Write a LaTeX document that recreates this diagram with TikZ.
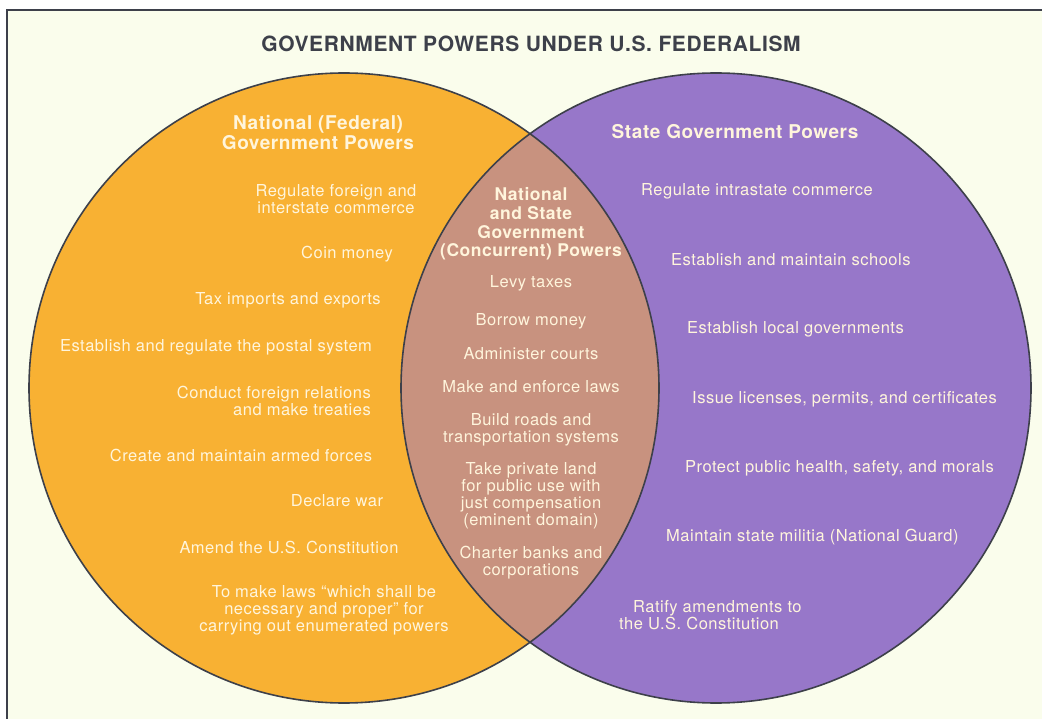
\documentclass[tikz,border=0pt]{standalone}
\usepackage{fontspec}
\setmainfont{TeX Gyre Heros}[LetterSpace=3]
\definecolor{fedorange}{HTML}{F8B133}
\definecolor{statepurple}{HTML}{9777C9}
\definecolor{sharedbrown}{HTML}{C8927F}
\definecolor{inkgray}{HTML}{3D404A}
\definecolor{papercream}{HTML}{FAFDEC}
\definecolor{textcream}{HTML}{FFF5DC}
\tikzset{
  power/.style={text=textcream, font=\fontsize{16.5}{17}\selectfont, align=center, inner sep=0pt},
  heading/.style={power, font=\fontsize{19}{20}\selectfont\bfseries},
}
\begin{document}
\begin{tikzpicture}[x=1pt,y=-1pt]
            \def\radius{315}
            \useasboundingbox (0,0) rectangle (1042,719);
            \fill[white] (0,0) rectangle (1042,719);
            \fill[papercream] (7,10) rectangle (1042,719);
            \draw[inkgray, line width=1.2pt] (7,719) -- (7,10) -- (1042,10);
            \node[text=inkgray, font=\fontsize{21}{24}\selectfont\bfseries, inner sep=0pt] (title) at (531,44) {GOVERNMENT POWERS UNDER U.S. FEDERALISM};
            \coordinate (CenterN) at (344,388);
            \coordinate (CenterS) at (716,388);
            \fill[fedorange] (CenterN) circle (\radius);
            \fill[statepurple] (CenterS) circle (\radius);
            \begin{scope}
                \clip (CenterN) circle (\radius);
                \fill[sharedbrown] (CenterS) circle (\radius);
            \end{scope}
            \draw[inkgray, line width=1.6pt] (CenterN) circle (\radius);
            \draw[inkgray, line width=1.6pt] (CenterS) circle (\radius);
            % national powers
            \node[heading] (natHead) at (318,133) {National (Federal)\\Government Powers};
            \node[power] (natCommerce) at (336,199.5) {Regulate foreign and\\interstate commerce};
            \node[power] (natCoin) at (347,254) {Coin money};
            \node[power] (natTax) at (288,300) {Tax imports and exports};
            \node[power] (natPost) at (216,347) {Establish and regulate the postal system};
            \node[power, align=right, anchor=east] (natForeign) at (371,400.5) {Conduct foreign relations\\and make treaties};
            \node[power] (natArmed) at (241,455) {Create and maintain armed forces};
            \node[power] (natWar) at (337,501) {Declare war};
            \node[power] (natAmend) at (289,547) {Amend the U.S. Constitution};
            \node[power] (natLaws) at (324,610) {To make laws “which shall be\\necessary and proper” for\\carrying out enumerated powers};
            % state powers
            \node[heading] (stateHead) at (735,132) {State Government Powers};
            \node[power, anchor=west] (stateCommerce) at (641,191) {Regulate intrastate commerce};
            \node[power, anchor=west] (stateSchools) at (671,260) {Establish and maintain schools};
            \node[power, anchor=west] (stateLocal) at (687,329) {Establish local governments};
            \node[power, anchor=west] (stateLicense) at (692,399) {Issue licenses, permits, and certificates};
            \node[power, anchor=west] (stateHealth) at (685,468) {Protect public health, safety, and morals};
            \node[power, anchor=west] (stateMilitia) at (666,537) {Maintain state militia (National Guard)};
            \node[power, anchor=west, align=left] (stateRatify) at (619,615.5) {\hspace*{14pt}Ratify amendments to\\the U.S. Constitution};
            % concurrent powers
            \node[heading, font=\fontsize{17.5}{18.7}\selectfont\bfseries] (bothHead) at (531,224) {National\\and State\\Government\\(Concurrent) Powers};
            \node[power] (bothTax) at (531,283) {Levy taxes};
            \node[power] (bothBorrow) at (531,321) {Borrow money};
            \node[power] (bothCourts) at (531,354) {Administer courts};
            \node[power] (bothLaws) at (531,387) {Make and enforce laws};
            \node[power] (bothRoads) at (531,429.5) {Build roads and\\transportation systems};
            \node[power] (bothLand) at (531,496) {Take private land\\for public use with\\just compensation\\(eminent domain)};
            \node[power] (bothBanks) at (531,562.5) {Charter banks and\\corporations};
        \end{tikzpicture}
\end{document}
